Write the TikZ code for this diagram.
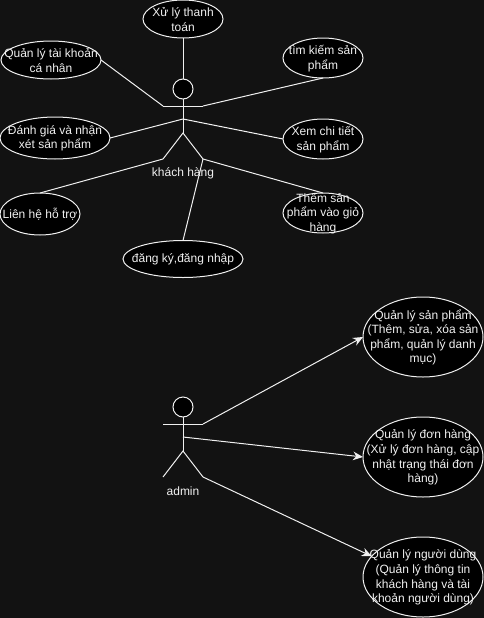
\documentclass[tikz,border=0pt]{standalone}
\usepackage{fontspec}
\setmainfont{Liberation Sans}
\usetikzlibrary{shapes.geometric,arrows.meta}
\definecolor{bgdark}{HTML}{121212}
\definecolor{fgline}{HTML}{F0F0F0}
\tikzset{ucase/.style 2 args={
    ellipse,
    draw=fgline,
    fill=black,
    inner sep=0pt,
    outer sep=0pt,
    line width=0.75pt,
    minimum width=#1*0.75pt,
    minimum height=#2*0.75pt
  },
  every label/.style={
    text=fgline,
    align=center,
    inner sep=0pt,
    yshift=-0.4pt,
    font=\fontsize{9}{10.9}\selectfont
  },
  headnode/.style={ucase={20}{20}},
  limb/.style={draw=fgline,line width=0.75pt},
  assoc/.style={limb,-{Stealth[length=7.5pt,width=6.5pt]}},
  actorname/.style={text=fgline,inner sep=0pt,font=\fontsize{9}{10.9}\selectfont},
}
\begin{document}
\begin{tikzpicture}[x=0.75pt,y=-0.75pt]
  \fill[bgdark] (0,0) rectangle (484,618);
  \useasboundingbox (0,0) rectangle (484,618);
  % khach hang
  \coordinate (khneck) at (183,99);
  \coordinate (kharml) at (163,106);
  \coordinate (kharmr) at (203,106);
  \coordinate (khwaist) at (183,119);
  \coordinate (khhip) at (183,133);
  \coordinate (khlegl) at (163,159);
  \coordinate (khlegr) at (203,159);
  \draw[limb] (khneck) -- (khhip);
  \draw[limb] (kharml) -- (kharmr);
  \draw[limb] (khlegl) -- (khhip) -- (khlegr);
  \node [headnode] (khhead) at (183,89) {};
  \node [actorname] (khname) at (183,173) {khách hàng};
  \node [ucase={80}{38},label={center:{Xử lý thanh\\toán}}] (pay) at (183,19) {};
  \node [ucase={100}{38},label={center:{Quản lý tài khoản\\cá nhân}}] (account) at (51,60) {};
  \node [ucase={80}{40},label={center:{tìm kiếm sản\\phẩm}}] (search) at (323,58) {};
  \node [ucase={110}{42},label={center:{Đánh giá và nhận\\xét sản phẩm}}] (review) at (55,138) {};
  \node [ucase={80}{40},label={center:{Xem chi tiết\\sản phẩm}}] (detail) at (323,139) {};
  \node [ucase={80}{42},label={center:{Liên hệ hỗ trợ}}] (support) at (40,214) {};
  \node [ucase={120}{37},label={center:{đăng ký,đăng nhập}}] (login) at (183,259) {};
  \node [ucase={80}{40},label={center:{Thêm sản\\phẩm vào giỏ\\hàng}}] (cart) at (323,213) {};
  \draw[limb] (pay.south) -- (khhead.north);
  \draw[limb] (account.east) -- (kharml);
  \draw[limb] (search.south) -- (kharmr);
  \draw[limb] (review.east) -- (khwaist);
  \draw[limb] (detail.west) -- (khwaist);
  \draw[limb] (support.north) -- (khlegl);
  \draw[limb] (login.north) -- (khlegr);
  \draw[limb] (cart.north) -- (khlegr);
  % admin
  \coordinate (adneck) at (183,417);
  \coordinate (adarml) at (163,424);
  \coordinate (adarmr) at (203,424);
  \coordinate (adwaist) at (183,437);
  \coordinate (adhip) at (183,451);
  \coordinate (adlegl) at (163,477);
  \coordinate (adlegr) at (203,477);
  \draw[limb] (adneck) -- (adhip);
  \draw[limb] (adarml) -- (adarmr);
  \draw[limb] (adlegl) -- (adhip) -- (adlegr);
  \node [headnode] (adhead) at (183,407) {};
  \node [actorname] (adname) at (183,491) {admin};
  \node [ucase={120}{80},label={center:{Quản lý sản phẩm\\(Thêm, sửa, xóa sản\\phẩm, quản lý danh\\mục)}}] (products) at (423,337) {};
  \node [ucase={120}{80},label={center:{Quản lý đơn hàng\\(Xử lý đơn hàng, cập\\nhật trạng thái đơn\\hàng)}}] (orders) at (423,457) {};
  \node [ucase={120}{80},label={center:{Quản lý người dùng\\(Quản lý thông tin\\khách hàng và tài\\khoản người dùng)}}] (users) at (423,577) {};
  \draw[assoc] (adarmr) -- (products.west);
  \draw[assoc] (adwaist) -- (orders.west);
  \draw[assoc] (adlegr) -- (users.158);
\end{tikzpicture}
\end{document}
